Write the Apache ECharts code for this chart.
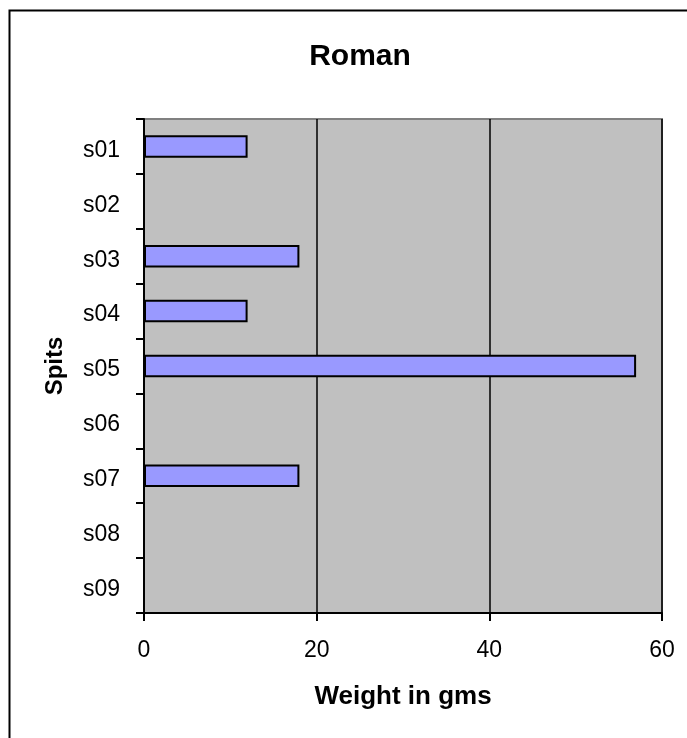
<!DOCTYPE html>
<html>
<head>
<meta charset="utf-8">
<style>
  html, body { margin: 0; padding: 0; background: #fff; }
  #chart { width: 687px; height: 738px; }
</style>
<script src="https://cdn.jsdelivr.net/npm/echarts@6/dist/echarts.min.js"></script>
</head>
<body>
<div id="chart"></div>
<script>
// Roman finds: weight per spit
const spits = ['s01', 's02', 's03', 's04', 's05', 's06', 's07', 's08', 's09'];
const weights = [12, null, 18, 12, 57, null, 18, null, null];
const xTicks = { min: 0, max: 60, interval: 20 };

const FONT = '"Liberation Sans", Arial, sans-serif';
const chart = echarts.init(document.getElementById('chart'), null, { renderer: 'canvas' });

chart.setOption({
  backgroundColor: '#ffffff',
  animation: false,
  title: {
    text: 'Roman',
    left: 355,
    textAlign: 'center',
    top: 37,
    textStyle: { fontFamily: FONT, fontSize: 30, fontWeight: 'bold', color: '#000' }
  },
  graphic: [{
    type: 'rect',
    shape: { x: 9.5, y: 10.5, width: 720, height: 800 },
    style: { fill: null, stroke: '#000', lineWidth: 2 },
    silent: true
  }],
  grid: {
    left: 144, top: 119, right: 25, bottom: 125,
    show: true,
    backgroundColor: '#C0C0C0',
    borderColor: '#808080',
    borderWidth: 2
  },
  xAxis: {
    type: 'value',
    min: xTicks.min, max: xTicks.max, interval: xTicks.interval,
    name: 'Weight in gms',
    nameLocation: 'middle',
    nameGap: 71,
    nameTextStyle: { fontFamily: FONT, fontSize: 26, fontWeight: 'bold', color: '#000' },
    axisLine: { show: true, lineStyle: { color: '#000', width: 2 } },
    axisTick: { show: true, length: 8, lineStyle: { color: '#000', width: 2 } },
    axisLabel: { fontFamily: FONT, fontSize: 23, color: '#000', margin: 26 },
    splitLine: { show: true, lineStyle: { color: '#000', width: 1.5 } }
  },
  yAxis: {
    type: 'category',
    data: spits,
    inverse: true,
    name: 'Spits',
    nameLocation: 'middle',
    nameGap: 77,
    nameTextStyle: { fontFamily: FONT, fontSize: 24, fontWeight: 'bold', color: '#000' },
    axisLine: { show: true, lineStyle: { color: '#000', width: 2 } },
    axisTick: { show: true, length: 8, alignWithLabel: false, lineStyle: { color: '#000', width: 2 } },
    axisLabel: {
      fontFamily: FONT, fontSize: 23, color: '#000', margin: 24,
      formatter: '{s|{value}}',
      rich: { s: { fontFamily: FONT, fontSize: 23, color: '#000', padding: [8, 0, 0, 0] } }
    },
    splitLine: { show: false }
  },
  series: [{
    type: 'bar',
    data: weights,
    barWidth: '41%',
    itemStyle: { color: '#9999FF', borderColor: '#000', borderWidth: 2 }
  }]
});
</script>
</body>
</html>
